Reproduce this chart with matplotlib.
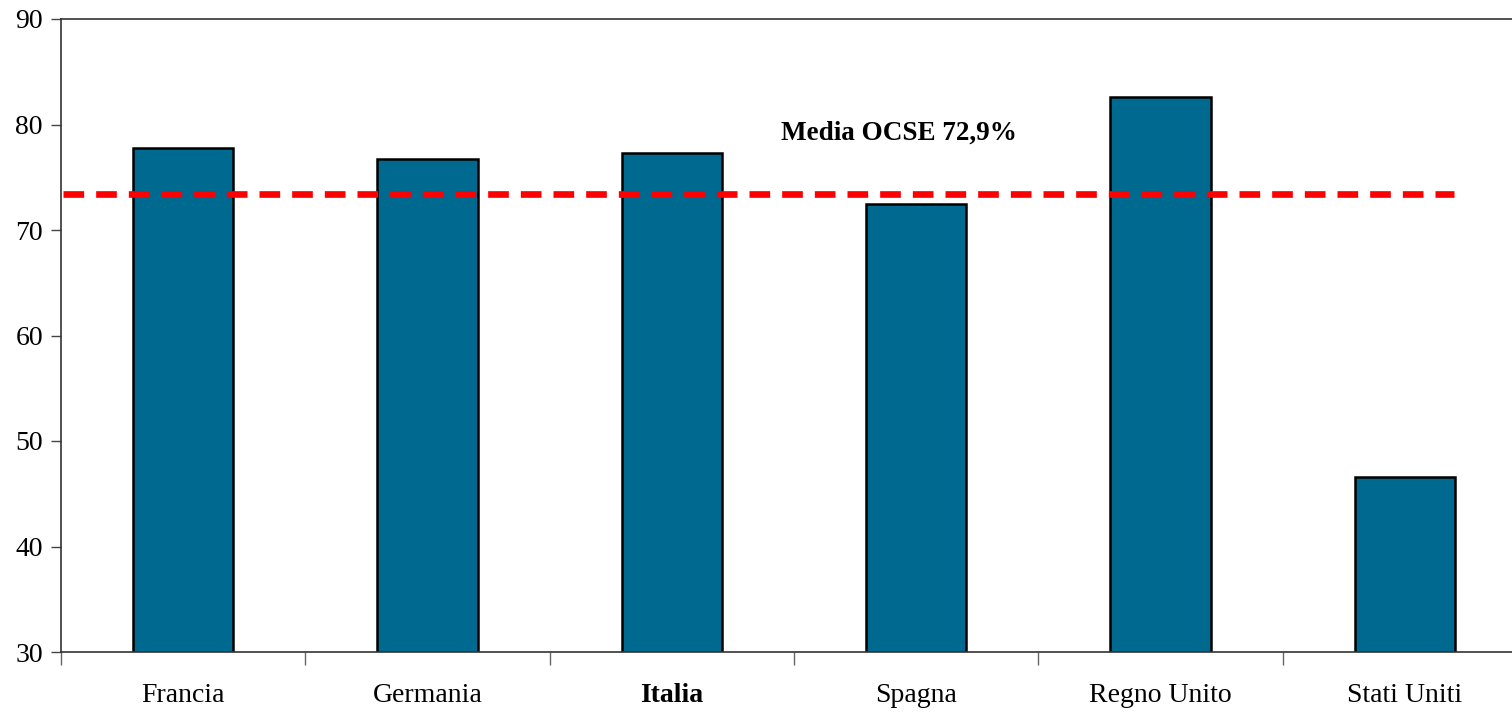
import numpy as np
import matplotlib.pyplot as plt

# data
paesi = ['Francia', 'Germania', 'Italia', 'Spagna', 'Regno Unito', 'Stati Uniti']
valori = [77.8, 76.7, 77.3, 72.5, 82.6, 46.6]
media_ocse = 73.4
etichetta_media = 'Media OCSE 72,9%'

plt.rcParams['font.family'] = ['Liberation Serif', 'DejaVu Serif']

fig = plt.figure(figsize=(15.12, 7.12), dpi=100)
ax = fig.add_axes([61 / 1512, 60 / 712, 1466 / 1512, 633 / 712])

x = np.arange(len(paesi))
ax.bar(x, valori, width=0.41, bottom=0, color='#006990',
       edgecolor='black', linewidth=1.8, zorder=2)

# dashed OECD average line
ax.plot([-0.49, 5.2], [media_ocse, media_ocse], color='#ff0000',
        linewidth=4.8, dashes=(3.1, 1.8), zorder=3)
ax.text(2.93, 79.2, etichetta_media, ha='center', va='center',
        fontsize=19.5, fontweight='bold')

ax.set_xlim(-0.5, len(paesi) - 0.5)
ax.set_ylim(30, 90)
ax.set_yticks(range(30, 91, 10))

ax.set_xticks(x)
ax.set_xticklabels(paesi, fontsize=20)
ax.get_xticklabels()[2].set_fontweight('bold')
ax.set_xticks(np.arange(-0.5, len(paesi), 1), minor=True)
ax.tick_params(axis='x', which='major', length=0, pad=22)
ax.tick_params(axis='x', which='minor', length=9, width=1, color='#666666')
ax.tick_params(axis='y', length=7, width=1, color='#444444', labelsize=20, pad=6)

for s in ['left', 'bottom', 'top']:
    ax.spines[s].set_color('#333333')
    ax.spines[s].set_linewidth(1.2)
ax.spines['right'].set_visible(False)

fig.savefig('out.png', dpi=100)
